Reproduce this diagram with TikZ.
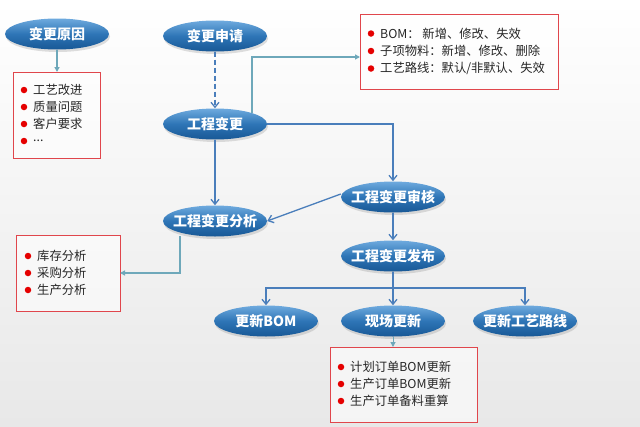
\documentclass[tikz,border=0pt]{standalone}
\usepackage{fontspec}
\newfontfamily\cjk{Noto Sans CJK SC}
\usetikzlibrary{shapes.geometric,shadows,arrows.meta}
\definecolor{lineblue}{RGB}{74,126,187}
\definecolor{teal}{RGB}{110,168,186}
\definecolor{boxred}{RGB}{224,70,76}
\definecolor{ellTop}{RGB}{110,170,222}
\definecolor{ellMid}{RGB}{46,117,182}
\definecolor{ellBot}{RGB}{24,88,150}
\tikzset{
  oval/.style={ellipse, minimum width=104pt, minimum height=31pt, inner xsep=-6pt, inner ysep=0pt,
    top color=ellTop, bottom color=ellBot, middle color=ellMid, draw=none,
    drop shadow={opacity=0.25, shadow xshift=1pt, shadow yshift=-2.5pt},
    text=white, font=\cjk\bfseries\fontsize{14}{16}\selectfont},
  infobox/.style={draw=boxred, line width=0.9pt, fill=white, fill opacity=0.55, text opacity=1},
  bl/.style={anchor=west, inner sep=0pt, font=\cjk\fontsize{12.3}{14}\selectfont, text=black!85},
  dot/.style={circle, fill=red!90!black, minimum size=6.5pt, inner sep=0pt},
  blu/.style={draw=lineblue, line width=1.3pt, -{Straight Barb[length=5pt,width=8pt]}},
  tl/.style={draw=teal, line width=1.3pt, -{Triangle[length=5pt,width=5pt]}},
}
\begin{document}
\begin{tikzpicture}[x=1pt,y=-1pt]
\useasboundingbox (0,0) rectangle (640,426);
\shade[top color=white, bottom color=black!9] (0,0) rectangle (640,426);
% boxes
\draw[infobox] (13,72) rectangle (100,158);
\draw[infobox] (360,14) rectangle (558,89);
\draw[infobox] (16,235) rectangle (120,311);
\draw[infobox] (330,347) rectangle (477,422);
% ovals
\node[oval] (yy) at (57,34) {变更原因};
\node[oval] (sq) at (215,36) {变更申请};
\node[oval] (gc) at (215,124) {工程变更};
\node[oval] (fx) at (215,221) {工程变更分析};
\node[oval] (sh) at (393,197) {工程变更审核};
\node[oval] (fb) at (393,256) {工程变更发布};
\node[oval] (bom) at (266,321) {更新BOM};
\node[oval] (xc) at (393,321) {现场更新};
\node[oval] (gy) at (525,321) {更新工艺路线};
% box texts
\node[dot] at (24,90) {}; \node[bl] at (33,90) {工艺改进};
\node[dot] at (24,107) {}; \node[bl] at (33,107) {质量问题};
\node[dot] at (24,124) {}; \node[bl] at (33,124) {客户要求};
\node[dot] at (24,141) {}; \node[bl] at (33,141) {...};
\node[dot] at (371,33.5) {}; \node[bl] at (380,33.5) {BOM： 新增、修改、失效};
\node[dot] at (371,51) {}; \node[bl] at (380,51) {子项物料：新增、修改、删除};
\node[dot] at (371,68.5) {}; \node[bl] at (380,68.5) {工艺路线：默认/非默认、失效};
\node[dot] at (28,256) {}; \node[bl] at (37,256) {库存分析};
\node[dot] at (28,273) {}; \node[bl] at (37,273) {采购分析};
\node[dot] at (28,290) {}; \node[bl] at (37,290) {生产分析};
\node[dot] at (341,367) {}; \node[bl] at (350,367) {计划订单BOM更新};
\node[dot] at (341,384) {}; \node[bl] at (350,384) {生产订单BOM更新};
\node[dot] at (341,401) {}; \node[bl] at (350,401) {生产订单备料重算};
% coordinates
\coordinate (b1) at (57,72);
\coordinate (b2) at (360,57);
\coordinate (b3) at (120,273);
\coordinate (b4) at (393,347);
\coordinate (split) at (393,288);
% connectors
\draw[tl] (yy.south) -- (b1);
\draw[blu, dash pattern=on 5pt off 3pt] (sq.south) -- (gc.north);
\draw[tl] (252,113) -- (252,57) -- (b2);
\draw[blu] (gc.east) -| (sh.north);
\draw[blu] (gc.south) -- (fx.north);
\draw[blu] ([yshift=3pt]sh.west) -- (fx.east);
\draw[tl] (180,236) -- (180,273) -- (b3);
\draw[blu] (sh.south) -- (fb.north);
\draw[draw=lineblue, line width=1.3pt] (fb.south) -- (split);
\draw[blu] (split) -| (bom.north);
\draw[blu] (split) -| (gy.north);
\draw[blu] (split) -- (xc.north);
\draw[tl, line width=1pt] (xc.south) -- (b4);
\end{tikzpicture}
\end{document}
